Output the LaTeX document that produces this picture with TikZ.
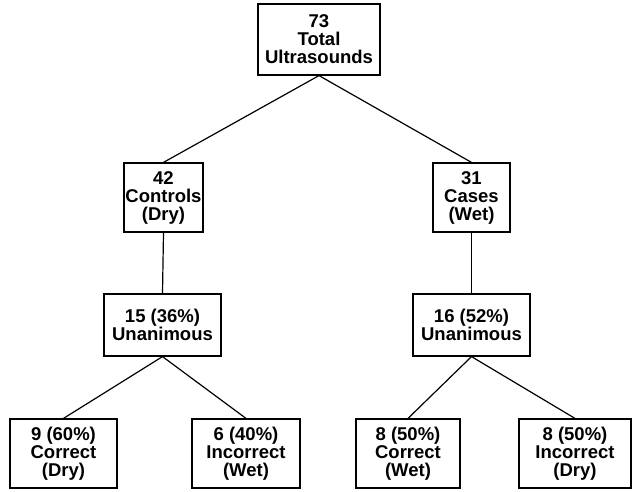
\documentclass[tikz,border=0pt]{standalone}
\usepackage{fontspec}
\setmainfont{Liberation Sans}
\begin{document}
\begin{tikzpicture}[x=1pt,y=-1pt,
  box/.style={draw,line width=1.2pt,align=center,inner sep=0pt,
    font=\fontsize{18.5}{18}\selectfont\bfseries},
  link/.style={line width=1.2pt}]
\useasboundingbox (0,0) rectangle (638,492);
\node[box,minimum width=122pt,minimum height=71pt] (top) at (319,39.5) {73\\Total\\Ultrasounds};
\node[box,minimum width=79pt,minimum height=69pt] (ctrl) at (163.5,197.5) {42\\Controls\\(Dry)};
\node[box,minimum width=77pt,minimum height=69pt] (cases) at (471.5,197.5) {31\\Cases\\(Wet)};
\node[box,minimum width=117pt,minimum height=62pt] (ul) at (162.5,325) {15 (36\%)\\Unanimous};
\node[box,minimum width=117pt,minimum height=62pt] (ur) at (471.5,325) {16 (52\%)\\Unanimous};
\node[box,minimum width=107pt,minimum height=69pt] (b1) at (63.5,453.5) {9 (60\%)\\Correct\\(Dry)};
\node[box,minimum width=108pt,minimum height=69pt] (b2) at (246,453.5) {6 (40\%)\\Incorrect\\(Wet)};
\node[box,minimum width=104pt,minimum height=69pt] (b3) at (408,453.5) {8 (50\%)\\Correct\\(Wet)};
\node[box,minimum width=112pt,minimum height=69pt] (b4) at (575,453.5) {8 (50\%)\\Incorrect\\(Dry)};
\draw[link] (top.south) -- (ctrl.north);
\draw[link] (top.south) -- (cases.north);
\draw[link] (ctrl.south) -- (ul.north);
\draw[link] (cases.south) -- (ur.north);
\draw[link] (ul.south) -- (b1.north);
\draw[link] (ul.south) -- (b2.north);
\draw[link] (ur.south) -- (b3.north);
\draw[link] (ur.south) -- (b4.north);
\end{tikzpicture}
\end{document}
